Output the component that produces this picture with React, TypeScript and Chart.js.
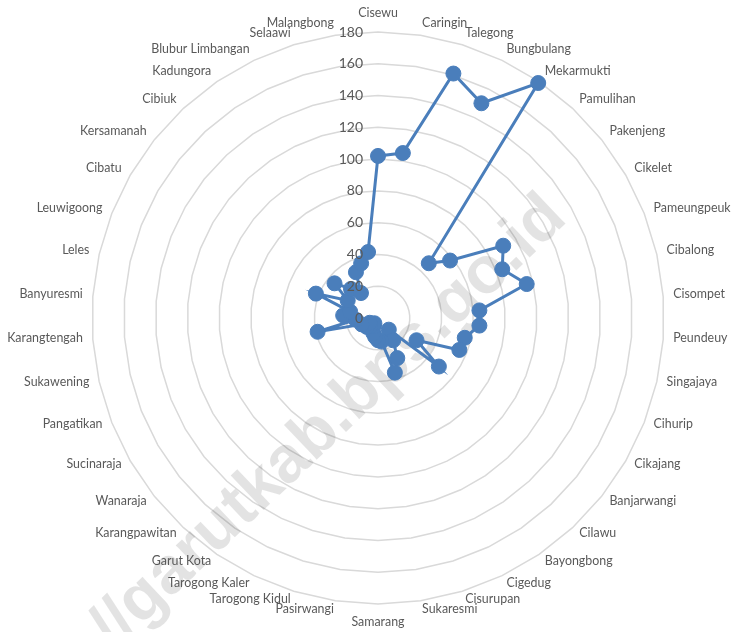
import React, { useEffect, useRef } from "react";
import { Chart, registerables } from "chart.js";

Chart.register(...registerables);

const districts: string[] = [
  "Cisewu", "Caringin", "Talegong", "Bungbulang", "Mekarmukti", "Pamulihan",
  "Pakenjeng", "Cikelet", "Pameungpeuk", "Cibalong", "Cisompet", "Peundeuy",
  "Singajaya", "Cihurip", "Cikajang", "Banjarwangi", "Cilawu", "Bayongbong",
  "Cigedug", "Cisurupan", "Sukaresmi", "Samarang", "Pasirwangi", "Tarogong Kidul",
  "Tarogong Kaler", "Garut Kota", "Karangpawitan", "Wanaraja", "Sucinaraja",
  "Pangatikan", "Sukawening", "Karangtengah", "Banyuresmi", "Leles", "Leuwigoong",
  "Cibatu", "Kersamanah", "Cibiuk", "Kadungora", "Blubur Limbangan", "Selaawi",
  "Malangbong",
];

const values: number[] = [
  102, 105, 161, 150, 179, 47,
  58, 91, 84, 96, 64, 64,
  56, 55, 28, 49, 10, 17,
  28, 36, 15, 14, 12, 10,
  6, 4, 7, 9, 6,
  11, 39, 14, 22, 18, 42,
  22, 35, 25, 19, 32, 36,
  42,
];

const scaleMin = 0;
const scaleMax = 180;
const scaleStep = 20;

const watermarkText = "//garutkab.bps.go.id";

const watermarkPlugin = {
  id: "watermark",
  beforeDatasetsDraw(chart: any) {
    const ctx = chart.ctx;
    ctx.save();
    ctx.translate(114, 652);
    ctx.rotate((-43.5 * Math.PI) / 180);
    ctx.font = 'bold 66px "Liberation Sans"';
    ctx.fillStyle = "rgba(0,0,0,0.11)";
    ctx.textAlign = "left";
    ctx.textBaseline = "alphabetic";
    ctx.fillText(watermarkText, 0, 0);
    ctx.restore();
  },
};

// Category labels placed at the scale's own point positions, Excel style
const pointLabelPlugin = {
  id: "excelPointLabels",
  afterDraw(chart: any) {
    const scale = chart.scales.r;
    const ctx = chart.ctx;
    ctx.save();
    ctx.font = '12.4px "Lato"';
    ctx.fillStyle = "#595959";
    ctx.textBaseline = "middle";
    const labels: string[] = chart.data.labels;
    labels.forEach((lab, i) => {
      const a = scale.getIndexAngle(i);
      const p = scale.getPointPosition(i, scale.drawingArea + 10);
      const s = Math.sin(a);
      const c = Math.cos(a);
      let y = p.y - 2;
      if (Math.abs(s) < 0.01) {
        ctx.textAlign = "center";
        y = c > 0 ? p.y - 9 : p.y + 8;
      } else if (s > 0) {
        ctx.textAlign = "left";
      } else {
        ctx.textAlign = "right";
      }
      ctx.fillText(lab, p.x, y);
    });
    ctx.restore();
  },
};

const leftTicksPlugin = {
  id: "leftTicks",
  afterDatasetsDraw(chart: any) {
    const scale = chart.scales.r;
    const ctx = chart.ctx;
    ctx.save();
    ctx.font = '14px "Lato"';
    ctx.fillStyle = "#595959";
    ctx.textAlign = "right";
    ctx.textBaseline = "middle";
    scale.ticks.forEach((t: any) => {
      const d = scale.getDistanceFromCenterForValue(t.value);
      ctx.fillText(String(t.value), scale.xCenter - 15, scale.yCenter - d);
    });
    ctx.restore();
  },
};

export default function App() {
  const ref = useRef<HTMLCanvasElement | null>(null);

  useEffect(() => {
    if (!ref.current) return;
    const chart = new Chart(ref.current, {
      type: "radar",
      data: {
        labels: districts,
        datasets: [
          {
            data: values,
            borderColor: "#4A7EBB",
            backgroundColor: "#4A7EBB",
            borderWidth: 3,
            fill: false,
            pointRadius: 7.5,
            pointBackgroundColor: "#4A7EBB",
            pointBorderColor: "#4A7EBB",
            pointBorderWidth: 1,
          },
        ],
      },
      options: {
        responsive: false,
        animation: false,
        layout: { padding: { top: 32, bottom: 28, left: 92, right: 68 } },
        plugins: {
          legend: { display: false },
          tooltip: { enabled: false },
        },
        scales: {
          r: {
            min: scaleMin,
            max: scaleMax,
            ticks: { stepSize: scaleStep, display: false },
            grid: { color: "#D9D9D9", lineWidth: 1.5, circular: false },
            angleLines: { display: false },
            pointLabels: { display: false },
          },
        },
      },
      plugins: [watermarkPlugin, leftTicksPlugin, pointLabelPlugin],
    });
    return () => chart.destroy();
  }, []);

  return (
    <div style={{ position: "fixed", left: 0, top: 0, width: 732, height: 632, background: "#fff", overflow: "hidden" }}>
      <canvas ref={ref} width={732} height={632} />
    </div>
  );
}
